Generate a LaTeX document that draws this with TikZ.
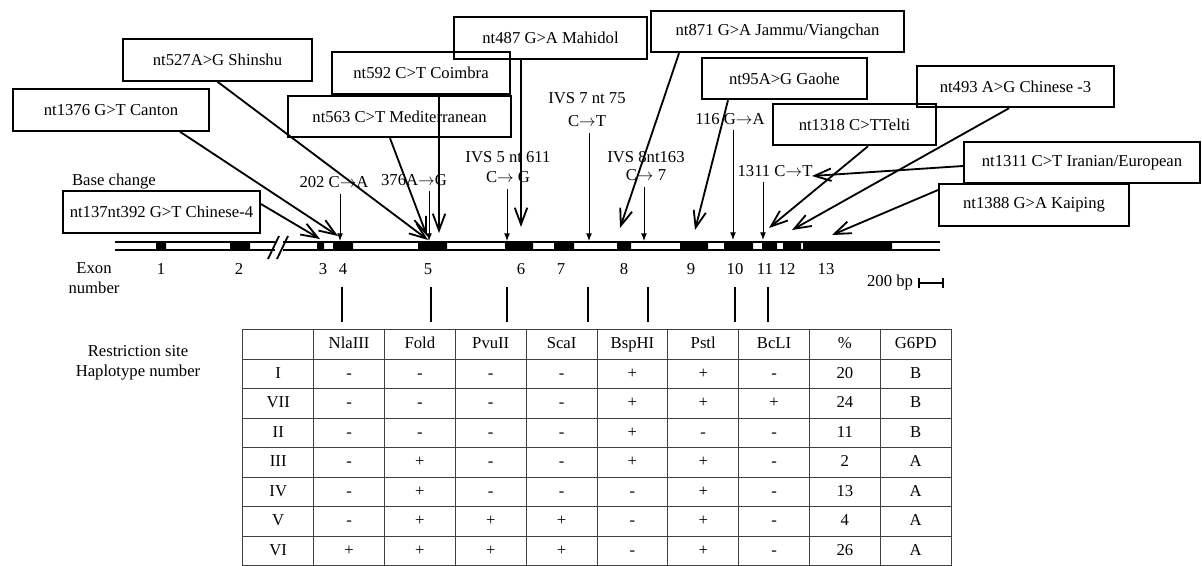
\documentclass[tikz,border=0pt]{standalone}
\usepackage{fontspec}
\setmainfont{Liberation Serif}
\usetikzlibrary{arrows.meta,matrix}

\begin{document}
\begin{tikzpicture}[x=0.6pt, y=-0.6pt,
  mutbox/.style={draw, line width=1.1pt, minimum height=25pt, inner sep=2pt},
  mutarrow/.style={line width=1.1pt, -{Straight Barb[length=10pt,width=7.5pt]}},
  basearrow/.style={line width=0.6pt, -{Latex[length=4.5pt,width=3.5pt]}},
  cell/.style={draw=black!75, line width=0.6pt, minimum width=42.5pt, minimum height=17.7pt,
    text height=7pt, text depth=2pt, inner sep=0pt, outer sep=0pt}]
\useasboundingbox (0,0) rectangle (1202,566);
% mutation boxes
\draw (217.5,60) node[mutbox, minimum width=113.4pt] (shinshu) {nt527A>G Shinshu};
\draw (111,110) node[mutbox, minimum width=117.6pt] (canton) {nt1376 G>T Canton};
\draw (421,73) node[mutbox, minimum width=106.8pt] (coimbra) {nt592 C>T Coimbra};
\draw (399.5,116.5) node[mutbox, minimum width=133.8pt] (medit) {nt563 C>T Mediterranean};
\draw (550.5,38) node[mutbox, minimum width=115.8pt] (mahidol) {nt487 G>A Mahidol};
\draw (777.5,31.5) node[mutbox, minimum width=151.8pt] (jammu) {nt871 G>A Jammu/Viangchan};
\draw (784.5,78.5) node[mutbox, minimum width=99pt] (gaohe) {nt95A>G Gaohe};
\draw (1015.5,86.5) node[mutbox, minimum width=118.2pt] (chin3) {nt493 A>G Chinese -3};
\draw (854.5,124.5) node[mutbox, minimum width=97.8pt] (telti) {nt1318 C>TTelti};
\draw (1082,162.5) node[mutbox, minimum width=141.6pt] (iran) {nt1311 C>T Iranian/European};
\draw (1034,205) node[mutbox, minimum width=114pt] (kaiping) {nt1388 G>A Kaiping};
\draw (161.5,212) node[mutbox, minimum width=118.2pt] (chin4) {nt137nt392 G>T Chinese-4};
% base changes
\draw (114,182) node (basechg) {Base change};
\draw (334,182) node (b202) {202 C$\rightarrow$A};
\draw (414,180) node (b376) {376A$\rightarrow$G};
\draw (508,167.5) node[align=center] (ivs5) {IVS 5 nt 611\\C$\rightarrow$\ G};
\draw (587,109.5) node[align=center] (ivs7) {IVS 7 nt 75\\[2pt]C$\rightarrow$T};
\draw (646,166) node[align=center] (ivs8) {IVS 8nt163\\[-1pt]C$\rightarrow$\ 7};
\draw (730,119) node (b116) {116 G$\rightarrow$A};
\draw (775,171) node (b1311) {1311 C$\rightarrow$T};
% gene
\fill (156,242) rectangle (166,250) (230,242) rectangle (250,250) (317,242) rectangle (324,250)
  (333,242) rectangle (353,250) (418,242) rectangle (447,250) (505,242) rectangle (533,250)
  (554,242) rectangle (574,250) (617,242) rectangle (631,250) (680,242) rectangle (708,250)
  (724,242) rectangle (753,250) (762,242) rectangle (777,250) (783,242) rectangle (801,250)
  (803,242) rectangle (892,250);
\draw[line width=1.1pt] (115,242) -- (275,242) (115,250) -- (275,250)
  (283,242) -- (940,242) (283,250) -- (940,250);
\draw[line width=1.1pt] (268,259) -- (279,236) (277,259) -- (288,236);
\coordinate (g202) at (340,241);
\coordinate (g376) at (429,241);
\coordinate (givs5) at (507,241);
\coordinate (givs7) at (589,241);
\coordinate (givs8) at (644,241);
\coordinate (g116) at (733,240);
\coordinate (g1311) at (763,240);
\draw[basearrow] (b202.south -| g202) -- (g202);
\draw[basearrow] (b376.south -| g376) -- (g376);
\draw[basearrow] (ivs5.south -| givs5) -- (givs5);
\draw[basearrow] (ivs7.south -| givs7) -- (givs7);
\draw[basearrow] (ivs8.south -| givs8) -- (givs8);
\draw[basearrow] (b116.south -| g116) -- (g116);
\draw[basearrow] (b1311.south -| g1311) -- (g1311);
% arrows from the boxes
\coordinate (tchin4) at (320,239);
\coordinate (tcanton) at (338,236);
\coordinate (tshinshu) at (428,240);
\coordinate (tmedit) at (427,236);
\coordinate (tcoimbra) at (439,233);
\coordinate (tmahidol) at (521,227);
\coordinate (tjammu) at (620,228);
\coordinate (tgaohe) at (695,230);
\coordinate (ttelti) at (769,228);
\coordinate (tchin3) at (792,230);
\coordinate (tiran) at (812,176);
\coordinate (tkaiping) at (832,235);
\draw[mutarrow] ([yshift=4.8pt]chin4.east) -- (tchin4);
\draw[mutarrow] ([xshift=41.4pt]canton.south) -- (tcanton);
\draw[mutarrow] (shinshu.south) -- (tshinshu);
\draw[mutarrow] ([xshift=-5.7pt]medit.south) -- (tmedit);
\draw[mutarrow] ([xshift=10.8pt]coimbra.south) -- (tcoimbra);
\draw[mutarrow] ([xshift=-17.7pt]mahidol.south) -- (tmahidol);
\draw[mutarrow] ([xshift=-59.1pt]jammu.south) -- (tjammu);
\draw[mutarrow] ([xshift=-33.9pt]gaohe.south) -- (tgaohe);
\draw[mutarrow] ([xshift=8.1pt]telti.south) -- (ttelti);
\draw[mutarrow] ([xshift=-3.9pt]chin3.south) -- (tchin3);
\draw[mutarrow] ([yshift=-2.1pt]iran.west) -- (tiran);
\draw[mutarrow] ([yshift=9pt]kaiping.west) -- (tkaiping);
% exon numbers and scale
\draw (94,278) node[align=center] (exonlbl) {Exon\\number};
\draw (161,269) node (ex1) {1} (239,269) node (ex2) {2} (323,269) node (ex3) {3}
  (343,269) node (ex4) {4} (428,269) node (ex5) {5} (521,269) node (ex6) {6}
  (561,269) node (ex7) {7} (624,269) node (ex8) {8} (691,269) node (ex9) {9}
  (735,269) node (ex10) {10} (765,269) node (ex11) {11} (787,269) node (ex12) {12}
  (826,269) node (ex13) {13};
\draw (890,282) node (bp) {200 bp};
\draw[line width=1.2pt] (919,278) -- (919,288) (919,283) -- (943,283) (943,278) -- (943,288);
% restriction sites
\draw[line width=1.1pt] (342,287) -- (342,322) (431,287) -- (431,322) (507,287) -- (507,322)
  (588,287) -- (588,322) (648,287) -- (648,322) (735,287) -- (735,322) (768,287) -- (768,322);
\draw (138,362.5) node[align=center] (restr) {Restriction site\\Haplotype number};
\matrix (haplo) [matrix of nodes, nodes in empty cells, nodes={cell}, inner sep=0pt,
  column sep=-0.6pt, row sep=-0.6pt, anchor=north west] at (242,329) {
  & NlaIII & Fold & PvuII & ScaI & BspHI & Pstl & BcLI & \% & G6PD \\
  I & - & - & - & - & + & + & - & 20 & B \\
  VII & - & - & - & - & + & + & + & 24 & B \\
  II & - & - & - & - & + & - & - & 11 & B \\
  III & - & + & - & - & + & + & - & 2 & A \\
  IV & - & + & - & - & - & + & - & 13 & A \\
  V & - & + & + & + & - & + & - & 4 & A \\
  VI & + & + & + & + & - & + & - & 26 & A \\
};
\end{tikzpicture}
\end{document}
